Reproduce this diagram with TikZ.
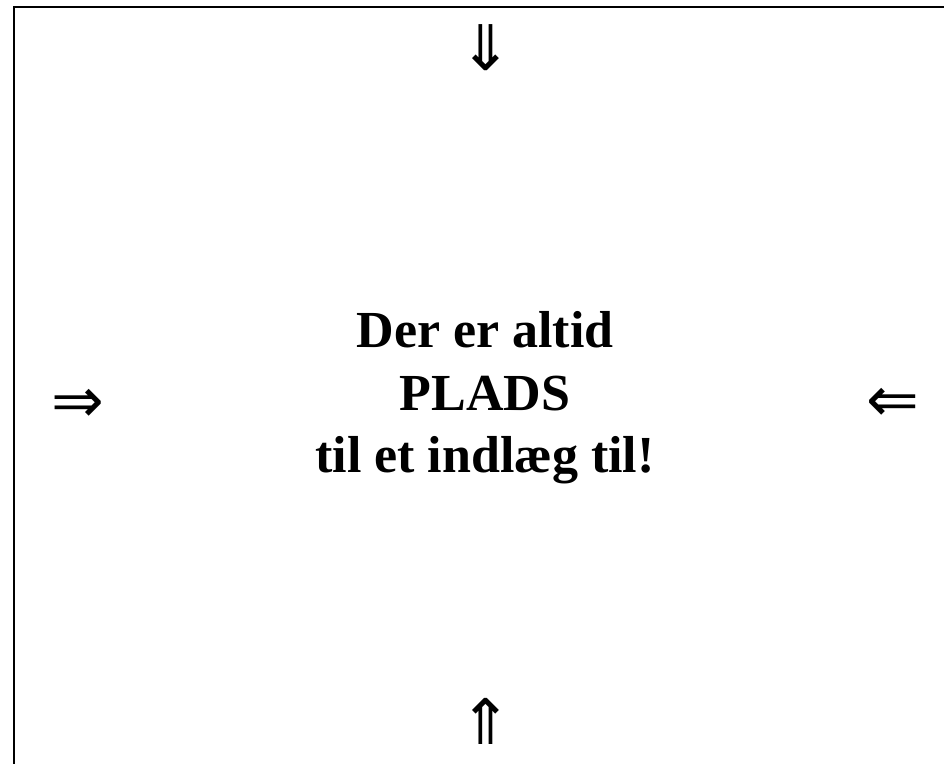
\documentclass[tikz,border=0pt]{standalone}
\usepackage{fontspec}
\setmainfont{Liberation Serif}
\newfontfamily\arrowfont{DejaVu Sans}
\begin{document}
\begin{tikzpicture}[x=1pt,y=-1pt,
  msg/.style={font=\fontsize{52}{62}\selectfont\bfseries, anchor=base, inner sep=0pt},
  arr/.style={font=\fontsize{63}{63}\selectfont\arrowfont, inner sep=0pt, text height=20pt, text depth=0pt, anchor=base},
  frame/.style={line width=2pt, black}]
\useasboundingbox (0,0) rectangle (944,763);
\coordinate (tl) at (14,7);
\coordinate (tr) at (950,7);
\coordinate (bl) at (14,770);
\draw[frame] (tr) -- (tl) -- (bl);
\node[msg] (l1) at (485,347) {Der er altid};
\node[msg] (l2) at (485,410) {PLADS};
\node[msg] (l3) at (485,472) {til et indlæg til!};
\node[arr] (down) at (486,70) {⇓};
\node[arr] (up) at (486,744) {⇑};
\node[arr] (right) at (78,422) {⇒};
\node[arr] (left) at (893,421) {⇐};
\end{tikzpicture}
\end{document}
